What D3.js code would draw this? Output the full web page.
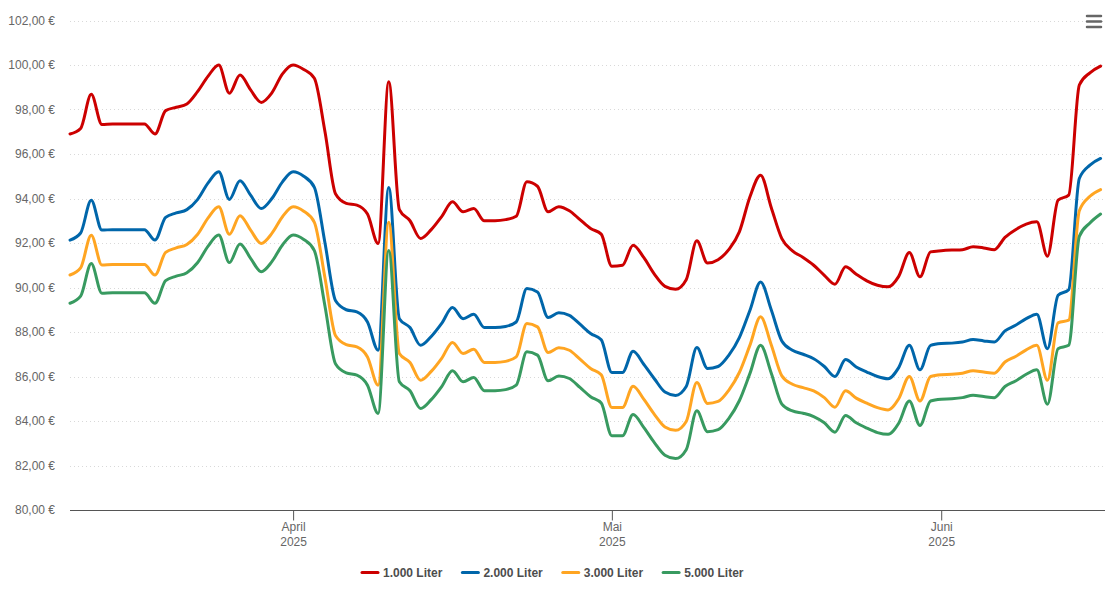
<!DOCTYPE html>
<html><head><meta charset="utf-8">
<script src="https://cdn.jsdelivr.net/npm/d3@7"></script>
<style>
body{margin:0;background:#fff;}
svg{display:block;font-family:"Liberation Sans",Arial,Helvetica,sans-serif;}
</style>
</head><body>
<svg id="chart" width="1115" height="608"></svg>
<script>
// ---- data ----
const startDate = "2025-03-11";
const seriesNames = ["1.000 Liter", "2.000 Liter", "3.000 Liter", "5.000 Liter"];
const seriesColors = ["#cc0000", "#0066aa", "#ffa522", "#389a60"];

const liter1000 = [96.9,97.15,98.68,97.33,97.35,97.35,97.35,97.35,96.9,97.95,
  98.1,98.25,98.8,99.5,100.0,98.73,99.55,98.88,98.32,98.75,
  99.6,100.0,99.8,99.4,97.0,94.2,93.78,93.7,93.3,91.98,
  99.25,93.5,93.0,92.2,92.6,93.2,93.85,93.4,93.55,93.0,
  93.0,93.05,93.2,94.75,94.55,93.4,93.63,93.45,93.05,92.65,
  92.4,90.95,91.0,91.9,91.35,90.6,90.05,89.92,90.35,92.1,
  91.1,91.25,91.7,92.5,94.08,95.05,93.6,92.2,91.65,91.35,
  91.0,90.55,90.15,90.93,90.6,90.3,90.1,90.03,90.5,91.57,
  90.48,91.6,91.65,91.68,91.7,91.83,91.78,91.7,92.25,92.6,
  92.85,92.95,91.41,93.93,94.15,99.1,99.65,99.95];

const liter2000 = [92.13,92.45,93.92,92.58,92.6,92.6,92.6,92.6,92.13,93.15,
  93.35,93.5,93.95,94.7,95.2,93.96,94.8,94.15,93.55,94.0,
  94.75,95.2,95.0,94.5,92.0,89.4,89.0,88.9,88.45,87.18,
  94.5,88.6,88.2,87.4,87.8,88.4,89.1,88.6,88.8,88.2,
  88.2,88.25,88.45,89.95,89.8,88.65,88.86,88.75,88.35,87.93,
  87.65,86.18,86.18,87.13,86.55,85.9,85.3,85.15,85.55,87.3,
  86.36,86.45,86.95,87.75,88.98,90.25,89.0,87.6,87.18,87.0,
  86.8,86.45,86.0,86.76,86.43,86.2,86.0,85.9,86.4,87.4,
  86.3,87.4,87.48,87.5,87.55,87.66,87.6,87.55,88.05,88.3,
  88.6,88.8,87.25,89.65,89.9,94.9,95.5,95.8];

const liter3000 = [90.56,90.88,92.35,91.01,91.03,91.03,91.03,91.03,90.56,91.58,
  91.78,91.93,92.38,93.13,93.63,92.39,93.23,92.58,91.98,92.43,
  93.18,93.63,93.43,92.93,90.43,87.83,87.43,87.33,86.88,85.61,
  92.93,87.03,86.63,85.83,86.23,86.83,87.53,87.03,87.23,86.63,
  86.63,86.68,86.88,88.38,88.23,87.08,87.29,87.18,86.78,86.36,
  86.08,84.61,84.61,85.56,84.98,84.3,83.73,83.58,83.98,85.73,
  84.79,84.88,85.38,86.18,87.41,88.68,87.43,86.03,85.65,85.5,
  85.35,85.05,84.62,85.36,85.03,84.8,84.6,84.5,85.0,86.0,
  84.9,86.0,86.08,86.1,86.15,86.26,86.2,86.15,86.65,86.9,
  87.2,87.4,85.83,88.41,88.53,93.45,94.1,94.4];

const liter5000 = [89.29,89.61,91.08,89.74,89.76,89.76,89.76,89.76,89.29,90.31,
  90.51,90.66,91.11,91.86,92.36,91.12,91.96,91.31,90.71,91.16,
  91.91,92.36,92.16,91.66,89.16,86.56,86.16,86.06,85.61,84.34,
  91.66,85.76,85.36,84.56,84.96,85.56,86.26,85.76,85.96,85.36,
  85.36,85.41,85.61,87.11,86.96,85.81,86.02,85.91,85.51,85.09,
  84.81,83.34,83.34,84.29,83.71,83.03,82.46,82.31,82.71,84.46,
  83.52,83.61,84.11,84.91,86.14,87.41,86.16,84.76,84.45,84.35,
  84.2,83.92,83.5,84.25,83.92,83.68,83.48,83.4,83.9,84.9,
  83.8,84.9,84.98,85.0,85.05,85.16,85.1,85.05,85.55,85.8,
  86.1,86.3,84.75,87.25,87.4,92.3,92.9,93.3];

const yTicks = [80,82,84,86,88,90,92,94,96,98,100,102];
const xTickDates = ["2025-04-01","2025-05-01","2025-06-01"];
const xTickLabels = ["April","Mai","Juni"];
const xTickYear = "2025";

// ---- layout ----
const svg = d3.select("#chart");
const plotLeft = 70, plotRight = 1105, plotTop = 20.5, plotBottom = 510;
const parse = d3.timeParse("%Y-%m-%d");
const start = parse(startDate);
const allSeries = [liter1000, liter2000, liter3000, liter5000];
const dates = liter1000.map((_, i) => d3.timeDay.offset(start, i));

const x = d3.scaleTime()
  .domain([start, d3.timeHour.offset(dates[dates.length - 1], 10)])
  .range([plotLeft, plotRight]);
const y = d3.scaleLinear().domain([80, 102]).range([plotBottom, plotTop]);

// gridlines
svg.append("g").selectAll("line").data(yTicks.filter(t => t !== 80)).join("line")
  .attr("x1", plotLeft).attr("x2", plotRight)
  .attr("y1", d => Math.round(y(d)) + 0.5).attr("y2", d => Math.round(y(d)) + 0.5)
  .attr("stroke", "#d9d9d9").attr("stroke-width", 1).attr("stroke-dasharray", "1,3");

// y labels
svg.append("g").selectAll("text").data(yTicks).join("text")
  .attr("x", 55).attr("y", d => y(d) + 4)
  .attr("text-anchor", "end")
  .attr("font-size", 12).attr("fill", "#666")
  .text(d => d.toFixed(2).replace(".", ",") + " €");

// x axis
const xAxis = d3.axisBottom(x)
  .tickValues(xTickDates.map(parse))
  .tickSize(10).tickSizeOuter(0)
  .tickFormat((d, i) => xTickLabels[i]);
const gx = svg.append("g").attr("transform", `translate(0,${Math.round(plotBottom) + 0.5})`).call(xAxis);
gx.select(".domain").attr("stroke", "#555").attr("d", `M${plotLeft},0H${plotRight}`);
gx.selectAll(".tick line").attr("stroke", "#555");
gx.selectAll(".tick text")
  .attr("font-family", "Liberation Sans, Arial, sans-serif")
  .attr("font-size", 12).attr("fill", "#666").attr("y", 0).attr("dy", null)
  .each(function (d, i) {
    const t = d3.select(this);
    t.text(null);
    t.append("tspan").attr("x", 0).attr("y", 20).text(xTickLabels[i]);
    t.append("tspan").attr("x", 0).attr("y", 35).text(xTickYear);
  });

// lines
const line = d3.line()
  .x((d, i) => x(dates[i]))
  .y(d => y(d))
  .curve(d3.curveMonotoneX);
svg.append("g").selectAll("path").data(allSeries).join("path")
  .attr("d", d => line(d))
  .attr("fill", "none")
  .attr("stroke", (d, i) => seriesColors[i])
  .attr("stroke-width", 3)
  .attr("stroke-linejoin", "round")
  .attr("stroke-linecap", "round");

// legend
const legend = svg.append("g");
let lx = 362;
seriesNames.forEach((name, i) => {
  const g = legend.append("g").attr("transform", `translate(${lx},0)`);
  g.append("line").attr("x1", 0).attr("x2", 16).attr("y1", 572.5).attr("y2", 572.5)
    .attr("stroke", seriesColors[i]).attr("stroke-width", 3).attr("stroke-linecap", "round");
  const t = g.append("text").attr("x", 21).attr("y", 577)
    .attr("font-size", 12).attr("font-weight", "bold").attr("fill", "#4d4d4d").text(name);
  lx += 21 + t.node().getComputedTextLength() + 20;
});

// menu icon
const menu = svg.append("g").attr("stroke", "#666").attr("stroke-width", 2.5).attr("stroke-linecap", "round");
[16, 21.5, 27].forEach(yy => menu.append("line").attr("x1", 1087).attr("x2", 1101).attr("y1", yy).attr("y2", yy));
</script>
</body></html>
